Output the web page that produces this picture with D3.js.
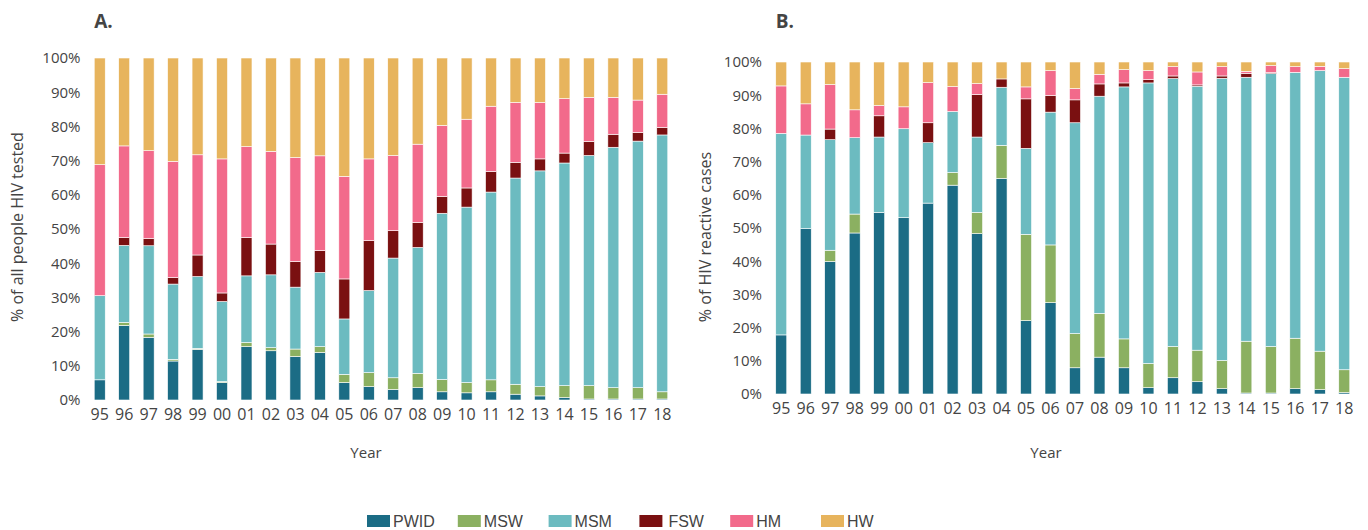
<!DOCTYPE html>
<html>
<head>
<meta charset="utf-8">
<script src="https://cdn.jsdelivr.net/npm/d3@7"></script>
<style>
    body { margin: 0; background: #fff; }
    text { font-family: "Open Sans", sans-serif; fill: #444; }
</style>
</head>
<body>
<div id="chart"></div>
<script>
// years on the x axis
let years = ["95", "96", "97", "98", "99", "00", "01", "02", "03", "04", "05", "06",
    "07", "08", "09", "10", "11", "12", "13", "14", "15", "16", "17", "18"];

let groups = ["PWID", "MSW", "MSM", "FSW", "HM", "HW"];
let colors = ["#1b6c85", "#8bb061", "#6cbbc0", "#7a1011", "#f26a8b", "#e7b45d"];

let yTicks = [0, 0.1, 0.2, 0.3, 0.4, 0.5, 0.6, 0.7, 0.8, 0.9, 1];

// A. % of all people HIV tested
let testedPWID = [5.9, 21.8, 18.3, 11.4, 14.8, 5.1, 15.6, 14.4, 12.7, 13.9, 5.1, 3.9, 3.1, 3.6, 2.4, 2.1, 2.4, 1.7, 1.2, 0.7, 0.3, 0.3, 0.3, 0.3];
let testedMSW = [0, 0.9, 1.0, 0.5, 0.3, 0.3, 1.2, 0.9, 2.2, 1.7, 2.4, 4.1, 3.4, 4.2, 3.6, 3.0, 3.5, 2.9, 2.7, 3.5, 3.9, 3.3, 3.3, 2.1];
let testedMSM = [24.6, 22.5, 25.8, 22.0, 21.0, 23.4, 19.5, 21.3, 18.1, 21.7, 16.2, 24.0, 35.0, 36.8, 48.6, 51.3, 54.9, 60.3, 63.1, 65.1, 67.3, 70.3, 72.1, 75.1];
let testedFSW = [0, 2.3, 2.1, 1.9, 6.3, 2.5, 11.2, 9.0, 7.5, 6.4, 11.7, 14.6, 8.0, 7.3, 4.9, 5.6, 6.0, 4.6, 3.5, 2.9, 4.1, 3.8, 2.5, 2.2];
let testedHM = [38.3, 26.8, 25.7, 34.0, 29.3, 39.2, 26.6, 27.1, 30.4, 27.7, 30.0, 23.9, 22.0, 22.9, 20.8, 20.1, 19.1, 17.5, 16.5, 15.9, 12.9, 10.8, 9.5, 9.7];
let testedHW = [31.2, 25.7, 27.1, 30.2, 28.3, 29.5, 25.9, 27.3, 29.1, 28.6, 34.6, 29.5, 28.5, 25.2, 19.7, 17.9, 14.1, 13.0, 13.0, 11.9, 11.5, 11.5, 12.3, 10.6];

// B. % of HIV reactive cases
let reactivePWID = [17.8, 49.8, 39.9, 48.5, 54.7, 53.1, 57.5, 62.9, 48.3, 64.9, 22.1, 27.5, 7.9, 11.1, 7.9, 1.9, 4.9, 3.7, 1.6, 0.3, 0.3, 1.6, 1.3, 0.4];
let reactiveMSW = [0, 0, 3.4, 5.7, 0, 0, 0, 3.8, 6.4, 10.0, 26.0, 17.4, 10.3, 13.2, 8.7, 7.3, 9.4, 9.5, 8.5, 15.6, 14.0, 15.2, 11.6, 6.9];
let reactiveMSM = [60.7, 28.2, 33.3, 23.0, 22.7, 26.8, 18.2, 18.4, 22.7, 17.5, 25.9, 40.0, 63.5, 65.4, 75.9, 84.5, 80.7, 79.5, 85.0, 79.5, 82.2, 80.1, 84.5, 88.1];
let reactiveFSW = [0, 0, 3.2, 0, 6.4, 0, 6.0, 0, 12.8, 2.5, 14.9, 5.0, 6.9, 3.7, 1.2, 1.0, 0.8, 0.4, 0.7, 1.2, 0.3, 0, 0, 0];
let reactiveHM = [14.3, 9.4, 13.4, 8.4, 3.1, 6.6, 12.1, 7.5, 3.3, 0, 3.6, 7.5, 3.4, 2.9, 4.0, 2.7, 2.8, 3.9, 2.8, 0.6, 2.1, 1.7, 1.3, 2.6];
let reactiveHW = [7.2, 12.6, 6.8, 14.4, 13.1, 13.5, 6.2, 7.4, 6.5, 5.1, 7.5, 2.6, 8.0, 3.7, 2.3, 2.6, 1.4, 3.0, 1.4, 2.8, 1.1, 1.4, 1.3, 2.0];

(function (window) {

    let svg = d3.select("#chart").append("svg")
        .attr("width", 1368)
        .attr("height", 530);

    let z = d3.scaleOrdinal().domain(groups).range(colors);

    function buildRows(series) {
        return years.map(function (yr, i) {
            let row = { year: yr };
            groups.forEach(function (g, k) {
                row[g] = series[k][i];
            });
            return row;
        });
    }

    function drawPanel(opts) {
        let rows = buildRows(opts.series);

        let x = d3.scaleBand()
            .domain(years)
            .range([opts.left, opts.right])
            .paddingInner(0.55)
            .paddingOuter(0.275);

        let y = d3.scaleLinear()
            .domain([0, 1])
            .range([opts.bottom, opts.top]);

        let stack = d3.stack()
            .keys(groups)
            .offset(d3.stackOffsetExpand);

        let g = svg.append("g");

        let serie = g.selectAll(".serie")
            .data(stack(rows))
            .enter().append("g")
            .attr("class", "serie")
            .attr("fill", function (d) { return z(d.key); })
            .style("stroke", "#ffffff")
            .style("stroke-width", "0.6");

        serie.selectAll("rect")
            .data(function (d) { return d; })
            .enter().append("rect")
            .attr("x", function (d) { return x(d.data.year); })
            .attr("y", function (d) { return y(d[1]); })
            .attr("width", x.bandwidth())
            .attr("height", function (d) { return Math.max(0, y(d[0]) - y(d[1])); });

        // y axis
        let yAxis = g.append("g")
            .attr("transform", "translate(" + opts.left + ",0)")
            .call(d3.axisLeft(y).tickValues(yTicks).tickSize(0).tickPadding(7)
                .tickFormat(d3.format(".0%")));
        yAxis.select(".domain").remove();
        yAxis.selectAll("text")
            .style("font-family", "'Open Sans', sans-serif")
            .style("font-size", "15px")
            .attr("fill", "#444");

        // x axis
        let xAxis = g.append("g")
            .attr("transform", "translate(0," + opts.bottom + ")")
            .call(d3.axisBottom(x).tickSize(0).tickPadding(9));
        xAxis.select(".domain").remove();
        xAxis.selectAll("text")
            .style("font-family", "'Open Sans', sans-serif")
            .style("font-size", "16px")
            .attr("fill", "#444");

        g.append("text")
            .attr("x", opts.yearX)
            .attr("y", 458)
            .attr("text-anchor", "middle")
            .style("font-size", "15px")
            .text("Year");

        g.append("text")
            .attr("transform", "translate(" + opts.titleX + "," + opts.titleY + ") rotate(-90)")
            .attr("text-anchor", "middle")
            .attr("dy", "0.35em")
            .style("font-size", "16px")
            .text(opts.yLabel);

        g.append("text")
            .attr("x", x(years[0]))
            .attr("y", 28)
            .style("font-size", "19px")
            .style("font-weight", "bold")
            .attr("fill", "#333")
            .text(opts.label);
    }

    drawPanel({
        label: "A.",
        yLabel: "% of all people HIV tested",
        series: [testedPWID, testedMSW, testedMSM, testedFSW, testedHM, testedHW],
        left: 87.5, right: 674.5, top: 58, bottom: 400,
        titleX: 17, titleY: 227, yearX: 366
    });

    drawPanel({
        label: "B.",
        yLabel: "% of HIV reactive cases",
        series: [reactivePWID, reactiveMSW, reactiveMSM, reactiveFSW, reactiveHM, reactiveHW],
        left: 769, right: 1356.5, top: 62, bottom: 394,
        titleX: 705, titleY: 237, yearX: 1046
    });

    // legend
    let legend = svg.selectAll(".legend")
        .data(groups)
        .enter().append("g")
        .attr("class", "legend")
        .attr("transform", function (d, i) {
            return "translate(" + (367 + i * 90.8) + ",515)";
        });

    legend.append("rect")
        .attr("width", 23)
        .attr("height", 12)
        .attr("fill", function (d) { return z(d); });

    legend.append("text")
        .attr("x", function (d) { return d === "FSW" ? 29 : 26; })
        .attr("y", 6)
        .attr("dy", "0.38em")
        .style("font-family", "'Liberation Sans Narrow', sans-serif")
        .style("font-size", "16px")
        .attr("fill", "#444")
        .text(function (d) { return d; });

})(window);
</script>
</body>
</html>
